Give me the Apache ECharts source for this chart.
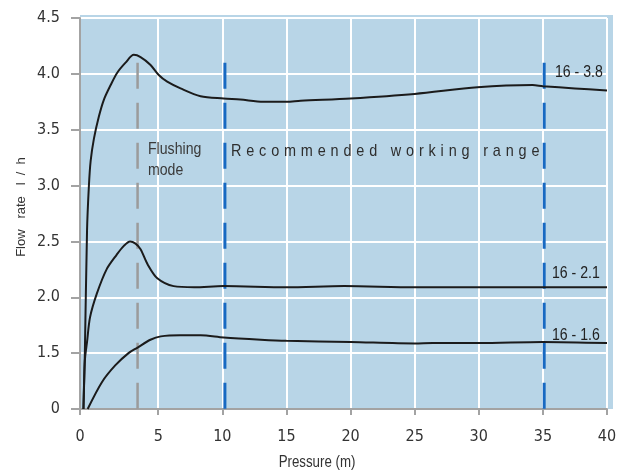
<!DOCTYPE html>
<html>
<head>
<meta charset="utf-8">
<script src="https://cdn.jsdelivr.net/npm/echarts@6/dist/echarts.min.js"></script>
<style>html,body{margin:0;padding:0;background:#fff}#c{width:628px;height:473px}</style>
</head>
<body>
<div id="c"></div>
<script>
// ---- data (pressure in m, flow in l/h) ----
const xTicks = [0, 5, 10, 15, 20, 25, 30, 35, 40];
const yTicks = [0, 1.5, 2.0, 2.5, 3.0, 3.5, 4.0, 4.5];

const pressure38 = [0.22,0.31,0.45,0.57,0.68,0.89,1.21,1.53,1.96,2.38,2.91,3.44,3.87,4.51,5.04,5.7,6.74,8.3,10.1,11.4,13.2,15,16.1,20,25,29.9,34.2,35,37.5,40];
const flow38     = [0,1.5,2.6,3.0,3.22,3.42,3.62,3.77,3.90,4.01,4.10,4.17,4.15,4.08,3.99,3.93,3.87,3.80,3.78,3.77,3.75,3.75,3.76,3.78,3.82,3.88,3.90,3.89,3.87,3.85];

const pressure21 = [0.22,0.28,0.33,0.45,0.64,1.07,1.7,2.34,2.8,3.2,3.55,3.87,4.34,4.94,6.2,7.8,10.1,15,19.5,25,30,35,40];
const flow21     = [0,1.0,1.4,1.6,1.82,2.03,2.25,2.38,2.46,2.50,2.48,2.43,2.29,2.17,2.10,2.09,2.10,2.09,2.10,2.09,2.09,2.09,2.09];

const pressure16 = [0.49,1.4,2.25,3.1,3.68,4.5,5.2,6.7,8.3,10.1,13,15,20,25,26.4,30,35,40];
const flow16     = [0,0.72,1.17,1.5,1.55,1.62,1.65,1.66,1.66,1.64,1.62,1.61,1.60,1.587,1.59,1.59,1.60,1.59];

const seriesNames = ['16 - 3.8', '16 - 2.1', '16 - 1.6'];
const flushingX = 3.68;
const rangeX = [10.2, 35.1];
const markerTop = 4.1;

// ---- broken-axis transforms of the original figure ----
const K = 15.68 / 12.85;               // first x segment (0-5) drawn wider
function xd(x) { return x <= 5 ? x * K : x + 5 * (K - 1); }
function xInv(d) { return d <= 5 * K ? d / K : d - 5 * (K - 1); }
function yd(v) { return v >= 1.5 ? v : 1 + v / 3; }   // 0..1.5 compressed into one step

function pts(xs, ys) { return xs.map((x, i) => [xd(x), yd(ys[i])]); }

const AXFONT = '"DejaVu Sans Condensed", "Liberation Sans", sans-serif';
const LS = '"Liberation Sans", Arial, sans-serif';
const TXT = '#333';
const NARROW = 0.83;

const chart = echarts.init(document.getElementById('c'));
const curveStyle = { color: '#1b1b1b', width: 2 };

function label(text, x, y, size, fill, lh) {
  return { type: 'text', x: x, y: y, z: 20, scaleX: NARROW,
    style: { text: text, font: size + 'px ' + LS, lineHeight: lh || size, fill: fill, align: 'left', verticalAlign: 'middle' } };
}

const spaced = 'Recommended working range'.split(' ')
  .map(w => w.split('').join('\u2004')).join('\u2004 \u2004');

chart.setOption({
  animation: false,
  grid: { left: 80, right: 21, top: 18, bottom: 64, show: true, backgroundColor: '#b8d5e7', borderWidth: 0 },
  graphic: [
    { type: 'rect', z: -10, shape: { x: 80, y: 15, width: 533, height: 394 }, style: { fill: '#b8d5e7' } },
    { type: 'text', x: 317, y: 463, z: 20, scaleX: NARROW, style: { text: 'Pressure (m)', font: '16px ' + LS, fill: TXT, align: 'center', verticalAlign: 'middle' } },
    { type: 'text', x: 21, y: 207, z: 20, rotation: Math.PI / 2, style: { text: 'Flow   rate   l  /  h', font: '13px ' + LS, fill: TXT, align: 'center', verticalAlign: 'middle' } },
    label('Flushing\nmode', 148, 160, 17, '#3a3a3a', 21),
    Object.assign(label(spaced, 231, 151, 17, '#2e2e2e'), { scaleX: 0.85 }),
    label(seriesNames[0], 555, 72, 17, '#222'),
    label(seriesNames[1], 552, 273, 17, '#222'),
    label(seriesNames[2], 552, 335, 17, '#222')
  ],
  xAxis: {
    type: 'value', min: 0, max: xd(40),
    axisLine: { show: true, lineStyle: { color: '#a3a3a3', width: 2 } },
    axisTick: { show: true, length: 6, lineStyle: { color: '#a3a3a3', width: 2 }, customValues: xTicks.map(xd) },
    axisLabel: { customValues: xTicks.map(xd), formatter: v => String(Math.round(xInv(v))), margin: 20, color: TXT, fontSize: 16, fontFamily: AXFONT },
    splitLine: { show: true, lineStyle: { color: '#ffffff', width: 2 } }
  },
  yAxis: {
    type: 'value', min: 1.0, max: 4.5, interval: 0.5,
    axisLine: { show: true, lineStyle: { color: '#a3a3a3', width: 2 } },
    axisTick: { show: true, length: 9, lineStyle: { color: '#a3a3a3', width: 2 } },
    axisLabel: { formatter: v => (v < 1.25 ? '0' : v.toFixed(1)), margin: 20, color: TXT, fontSize: 16, fontFamily: AXFONT },
    splitLine: { show: true, lineStyle: { color: '#ffffff', width: 2 } }
  },
  series: [
    { name: 'flushing', type: 'line', data: [[xd(flushingX), yd(markerTop)], [xd(flushingX), yd(0)]], symbol: 'none', lineStyle: { color: '#9b9b9b', width: 2.5, type: [26, 14] }, z: 3 },
    { name: 'rangeStart', type: 'line', data: [[xd(rangeX[0]), yd(markerTop)], [xd(rangeX[0]), yd(0)]], symbol: 'none', lineStyle: { color: '#1769c2', width: 3, type: [26, 14] }, z: 3 },
    { name: 'rangeEnd', type: 'line', data: [[xd(rangeX[1]), yd(markerTop)], [xd(rangeX[1]), yd(0)]], symbol: 'none', lineStyle: { color: '#1769c2', width: 3, type: [26, 14] }, z: 3 },
    { name: seriesNames[0], type: 'line', data: pts(pressure38, flow38), smooth: 0.3, symbol: 'none', lineStyle: curveStyle, z: 4 },
    { name: seriesNames[1], type: 'line', data: pts(pressure21, flow21), smooth: 0.3, symbol: 'none', lineStyle: curveStyle, z: 4 },
    { name: seriesNames[2], type: 'line', data: pts(pressure16, flow16), smooth: 0.3, symbol: 'none', lineStyle: curveStyle, z: 4 }
  ]
});
</script>
</body>
</html>
